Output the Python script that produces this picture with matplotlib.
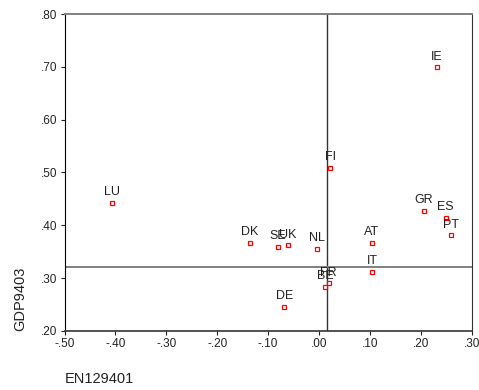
import matplotlib
matplotlib.use('Agg')
import matplotlib.pyplot as plt
import matplotlib.ticker as mticker

plt.rcParams['font.family'] = ['Liberation Sans', 'DejaVu Sans']

countries = ['IE', 'FI', 'LU', 'GR', 'ES', 'PT', 'DK', 'SE', 'UK', 'NL', 'AT', 'IT', 'FR', 'BE', 'DE']
en129401 = [0.232, 0.022, -0.406, 0.206, 0.249, 0.260, -0.136, -0.081, -0.061, -0.004, 0.104, 0.104, 0.019, 0.012, -0.068]
gdp9403 = [0.699, 0.508, 0.443, 0.427, 0.414, 0.381, 0.367, 0.359, 0.362, 0.355, 0.367, 0.312, 0.290, 0.283, 0.245]
mean_x = 0.016
mean_y = 0.322

fig = plt.figure(figsize=(4.79, 3.90), dpi=100)
ax = fig.add_axes([0.1347, 0.1513, 0.8501, 0.8128])

ax.plot(en129401, gdp9403, linestyle='none', marker='s', markersize=3.5,
        markerfacecolor='white', markeredgecolor='red', markeredgewidth=0.9, zorder=3)
for name, x, y in zip(countries, en129401, gdp9403):
    ax.annotate(name, (x, y), xytext=(0, 3.5), textcoords='offset points',
                ha='center', va='bottom', fontsize=9, color='#222222')

ax.axvline(mean_x, color='#333333', linewidth=1.0, zorder=2)
ax.axhline(mean_y, color='#808080', linewidth=1.4, zorder=2)

ax.set_xlim(-0.5, 0.3)
ax.set_ylim(0.2, 0.8)
ax.xaxis.set_major_locator(mticker.MultipleLocator(0.1))
ax.yaxis.set_major_locator(mticker.MultipleLocator(0.1))
fmt = lambda v, p: ('-' if v < -1e-9 else '') + ('%.2f' % abs(v))[1:]
ax.xaxis.set_major_formatter(mticker.FuncFormatter(fmt))
ax.yaxis.set_major_formatter(mticker.FuncFormatter(fmt))
ax.tick_params(direction='out', length=3, width=0.8, labelsize=8.5, pad=2, colors='#222222')

ax.spines['top'].set_color('#808080')
ax.spines['top'].set_linewidth(1.4)
ax.spines['bottom'].set_color('#333333')
ax.spines['bottom'].set_linewidth(1.2)
ax.spines['left'].set_color('black')
ax.spines['right'].set_color('#333333')

fig.text(0.042, 0.233, 'GDP9403', rotation=90, ha='center', va='center', fontsize=10.5, color='#222222')
fig.text(0.136, 0.028, 'EN129401', ha='left', va='center', fontsize=10.5, color='#222222')

fig.savefig('out.png', dpi=100)
